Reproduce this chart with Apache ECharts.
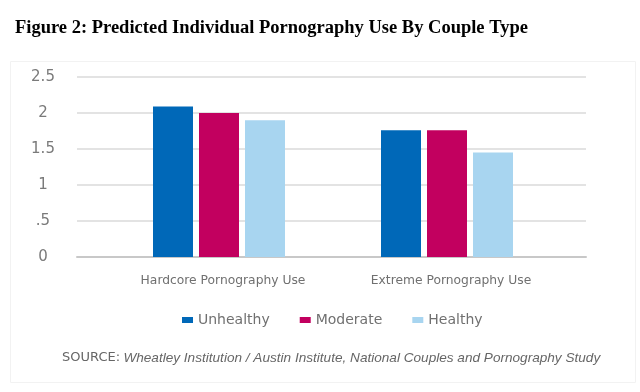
<!DOCTYPE html>
<html>
<head>
<meta charset="utf-8">
<script src="https://cdn.jsdelivr.net/npm/echarts@6/dist/echarts.min.js"></script>
<style>html,body{margin:0;padding:0;background:#fff}#c{width:640px;height:392px}</style>
</head>
<body>
<div id="c"></div>
<script>
var categories = ['Hardcore Pornography Use', 'Extreme Pornography Use'];
var seriesNames = ['Unhealthy', 'Moderate', 'Healthy'];
var unhealthy = [2.09, 1.76];
var moderate = [2.0, 1.76];
var healthy = [1.9, 1.45];
var yTicks = {0: '0', 0.5: '.5', 1: '1', 1.5: '1.5', 2: '2', 2.5: '2.5'};
var colors = ['#0068b8', '#c2005f', '#a8d5f0'];

var chart = echarts.init(document.getElementById('c'), null, {renderer: 'canvas'});
var sans = '"DejaVu Sans", Verdana, sans-serif';
var values = [unhealthy, moderate, healthy];
var series = seriesNames.map(function (n, i) {
  return {
    name: n, type: 'bar', xAxisIndex: 1, yAxisIndex: 1,
    data: values[i], barWidth: 40, barGap: '15%',
    itemStyle: {color: colors[i]}
  };
});
chart.setOption({
  animation: false,
  grid: [
    {left: 77, right: 54, top: 77, height: 180},
    {left: 105, width: 456, top: 77, height: 180}
  ],
  xAxis: [
    {type: 'category', gridIndex: 0, data: categories,
     axisLine: {show: true, lineStyle: {color: '#c8c8c8', width: 2}},
     axisTick: {show: false}, axisLabel: {show: false}},
    {type: 'category', gridIndex: 1, data: categories,
     axisLine: {show: false}, axisTick: {show: false},
     axisLabel: {margin: 18, color: '#707070', fontFamily: sans, fontSize: 12.3, padding: [0, 0, 0, 8]}}
  ],
  yAxis: [
    {type: 'value', gridIndex: 0, min: 0, max: 2.5, interval: 0.5,
     axisLine: {show: false}, axisTick: {show: false},
     splitLine: {lineStyle: {color: '#dadada', width: 1.5}},
     axisLabel: {align: 'center', margin: 34, color: '#7a7a7a', fontFamily: sans, fontSize: 15,
       formatter: function (v) { return yTicks[v] !== undefined ? yTicks[v] : ''; }}},
    {type: 'value', gridIndex: 1, min: 0, max: 2.5, interval: 0.5, show: false}
  ],
  legend: {
    data: seriesNames, left: 182, top: 313, padding: 0, itemWidth: 11, itemHeight: 6, itemGap: 30,
    icon: 'rect', textStyle: {color: '#707070', fontFamily: sans, fontSize: 14}
  },
  graphic: [
    {type: 'rect', left: 8, top: 59, shape: {width: 625, height: 321},
     style: {fill: 'none', stroke: '#f2f2f2', lineWidth: 1}, silent: true, z: -1},
    {type: 'text', left: 15, top: 19,
     style: {text: 'Figure 2: Predicted Individual Pornography Use By Couple Type',
       font: 'bold 18.5px "Liberation Serif", "Times New Roman", serif', fill: '#000'}},
    {type: 'text', left: 62, top: 351,
     style: {text: '{a|SOURCE:} {b|Wheatley Institution / Austin Institute, National Couples and Pornography Study}',
       rich: {
         a: {fontFamily: sans, fontSize: 13, fill: '#666666', color: '#666666'},
         b: {fontFamily: '"Liberation Sans", Arial, sans-serif', fontStyle: 'italic', fontSize: 13.6, fill: '#666666', color: '#666666'}
       }}}
  ],
  series: series
});
</script>
</body>
</html>
